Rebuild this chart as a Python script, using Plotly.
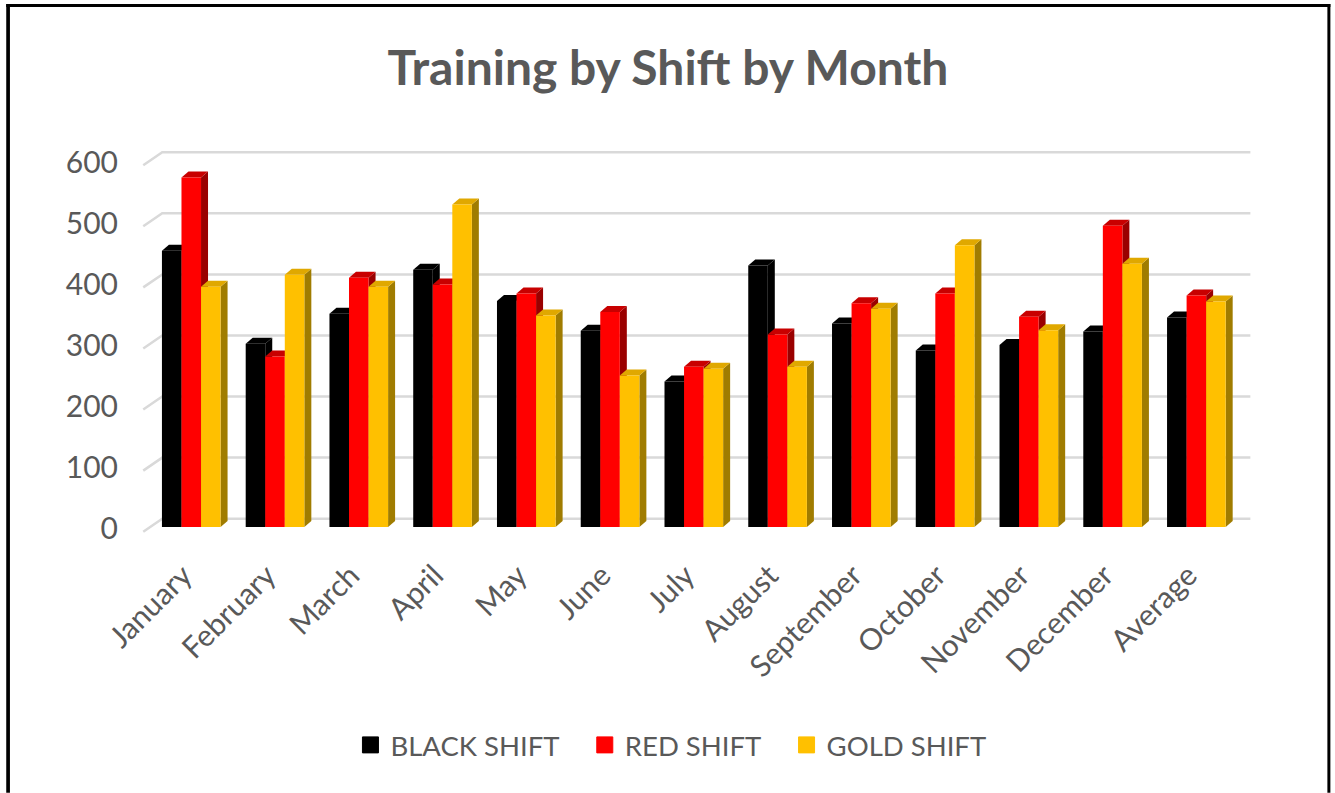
import plotly.graph_objects as go

categories = ["January", "February", "March", "April", "May", "June", "July",
              "August", "September", "October", "November", "December", "Average"]
black_shift = [452, 300, 349, 421, 370, 321, 238, 428, 333, 289, 298, 320, 343]
red_shift = [572, 279, 408, 397, 382, 352, 262, 315, 366, 382, 344, 493, 379]
gold_shift = [393, 413, 393, 528, 346, 248, 259, 262, 357, 461, 322, 431, 369]
y_ticks = [0, 100, 200, 300, 400, 500, 600]

NB = "\u00a0"
series = [
    ("BLACK SHIFT" + NB * 3, black_shift, "#000000", "#000000", "#000000"),
    ("RED SHIFT" + NB * 3, red_shift, "#FF0000", "#C80000", "#9A0000"),
    ("GOLD SHIFT", gold_shift, "#FFC000", "#E0A800", "#A07C00"),
]

W, H = 1335, 793
X0_PX, X_STEP = 191.0, 83.75
Y0_PX, Y_SCALE = 527.0, 0.611
x_range = [-0.6, 12.7]
y_range = [-10, 640]
left = X0_PX + x_range[0] * X_STEP
right = X0_PX + x_range[1] * X_STEP
top = Y0_PX - y_range[1] * Y_SCALE
bottom = Y0_PX - y_range[0] * Y_SCALE

BAR_W = 0.7 / 3
DX = 7 / X_STEP
DY = 6 / Y_SCALE

fig = go.Figure()
shapes = []

# back wall grid lines with the short diagonal floor segments
for v in y_ticks:
    back = v + 8.2 / Y_SCALE
    front = back - 13 / Y_SCALE
    xa, xb = (143 - X0_PX) / X_STEP, (162 - X0_PX) / X_STEP
    xc = (1250 - X0_PX) / X_STEP
    shapes.append(dict(type="path", xref="x", yref="y", layer="below",
                       path=f"M{xa},{front} L{xb},{back} L{xc},{back}",
                       line=dict(color="#D9D9D9", width=2.5)))

for k, (name, vals, face, topc, side) in enumerate(series):
    fig.add_trace(go.Bar(x=list(range(len(categories))), y=vals, name=name,
                         marker=dict(color=face, line=dict(width=0)),
                         showlegend=False))
    fig.add_trace(go.Scatter(x=[None], y=[None], mode="markers", name=name,
                             marker=dict(symbol="square", size=16, color=face,
                                         line=dict(color=face, width=1))))
    for i, v in enumerate(vals):
        xl = i - 0.35 + k * BAR_W
        xr = xl + BAR_W
        # side face
        shapes.append(dict(type="path", xref="x", yref="y", layer="below", line=dict(width=0),
                           fillcolor=side,
                           path=f"M{xr},0 L{xr+DX},{DY} L{xr+DX},{v+DY} L{xr},{v} Z"))
        # top face
        shapes.append(dict(type="path", xref="x", yref="y", layer="below", line=dict(width=0),
                           fillcolor=topc,
                           path=f"M{xl},{v} L{xl+DX},{v+DY} L{xr+DX},{v+DY} L{xr},{v} Z"))


def px(x):
    return (x - left) / (right - left)


def py(y):
    return 1 - (y - top) / (bottom - top)


# outer frame of the picture
for x0, y0, x1, y1 in [(6, 4, 1330, 7), (6, 4, 9.7, 793), (1327, 4, 1330, 793)]:
    shapes.append(dict(type="rect", xref="paper", yref="paper", layer="above",
                       x0=px(x0), x1=px(x1), y0=py(y0), y1=py(y1),
                       fillcolor="#000000", line=dict(width=0)))

fig.update_layout(
    width=W, height=H,
    margin=dict(l=left, r=W - right, t=top, b=H - bottom, autoexpand=False),
    paper_bgcolor="white", plot_bgcolor="rgba(0,0,0,0)",
    barmode="group", bargap=0.3, bargroupgap=0,
    font=dict(family="Lato", color="#595959"),
    title=dict(text="<b>Training by Shift by Month</b>", x=668 / W, xanchor="center",
               xref="container", y=1 - 68 / H, yanchor="middle", yref="container",
               font=dict(family="Lato", size=48, color="#595959")),
    shapes=shapes,
    xaxis=dict(range=x_range, tickmode="array", tickvals=list(range(len(categories))),
               ticktext=categories, tickangle=-45, showgrid=False, zeroline=False,
               showline=False, ticks="outside", ticklen=12, tickcolor="rgba(0,0,0,0)",
               ticklabelshift=-8,
               tickfont=dict(family="Lato", size=30, color="#595959")),
    yaxis=dict(range=y_range, tickmode="array", tickvals=y_ticks, showgrid=False,
               zeroline=False, showline=False, ticks="outside", ticklen=16,
               tickcolor="rgba(0,0,0,0)", ticklabelshift=2,
               tickfont=dict(family="Lato", size=30, color="#595959")),
    legend=dict(orientation="h", x=0.2625, xref="container", xanchor="left",
                y=1 - 745 / H, yref="container", yanchor="middle",
                font=dict(family="Lato", size=27.5, color="#595959"),
                itemsizing="trace", itemclick=False, tracegroupgap=0),
)

fig.write_html("out.html", config=dict(displayModeBar=False),
               post_script="document.body.style.margin='0';document.body.style.overflow='hidden';")
